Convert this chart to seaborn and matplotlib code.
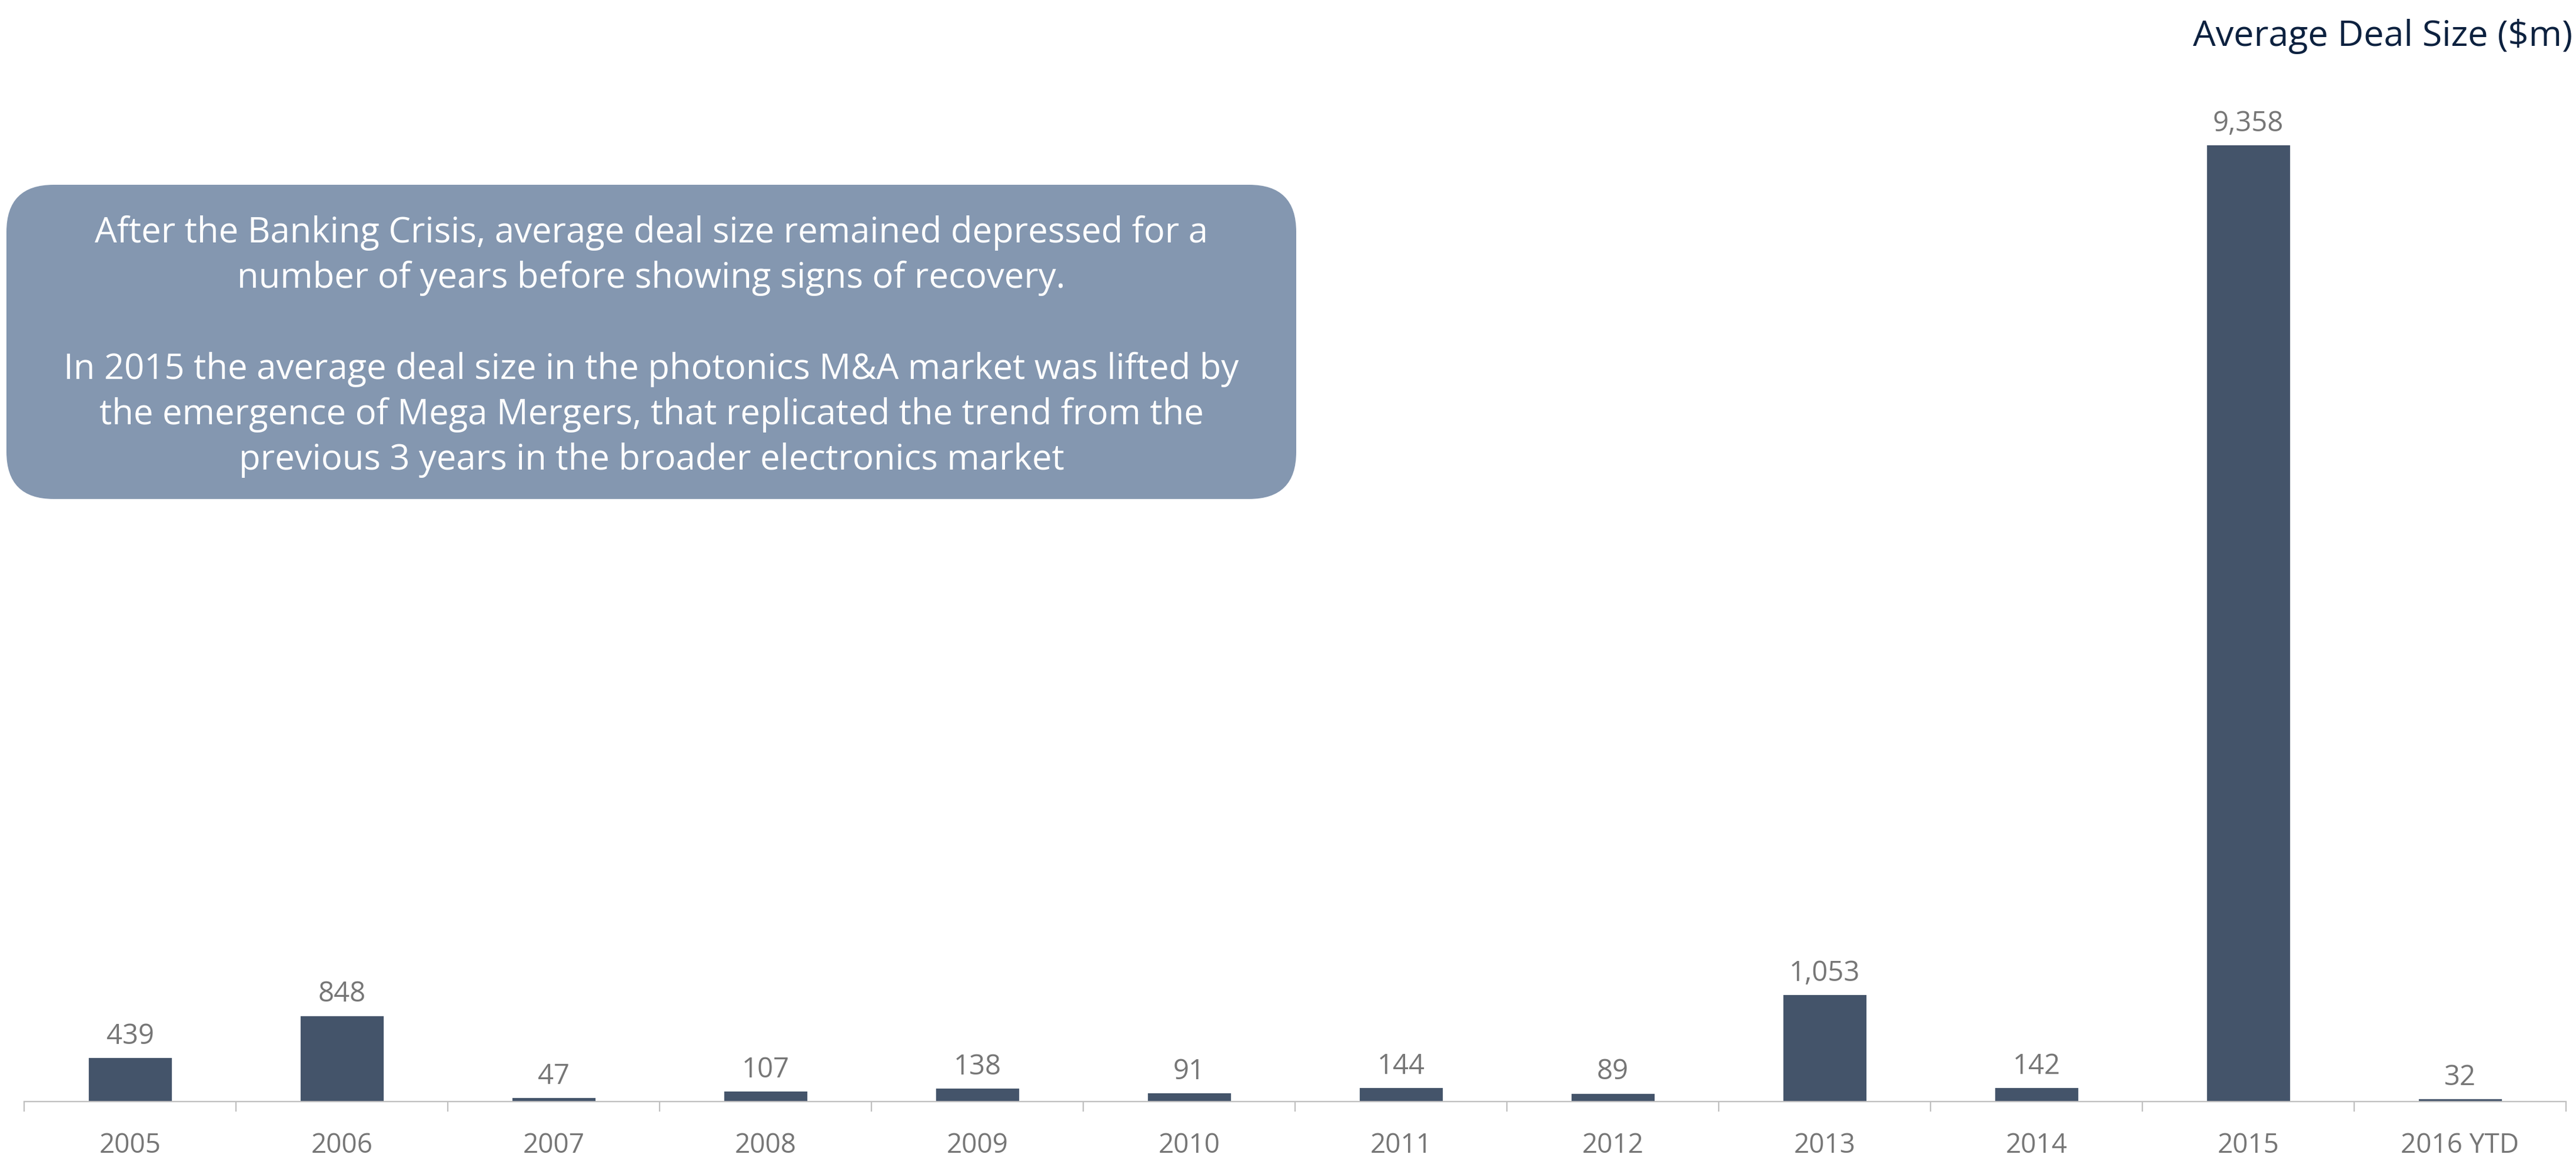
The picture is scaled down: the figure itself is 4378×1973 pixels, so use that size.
import matplotlib
matplotlib.use("Agg")
import matplotlib.pyplot as plt
from matplotlib.patches import FancyBboxPatch
import seaborn as sns
import pandas as pd

# Average deal size per year, $m
years = ["2005", "2006", "2007", "2008", "2009", "2010", "2011", "2012",
         "2013", "2014", "2015", "2016 YTD"]
deal_size = [439, 848, 47, 107, 138, 91, 144, 89, 1053, 142, 9358, 32]

title_text = "Average Deal Size ($m)"
note_text = ("After the Banking Crisis, average deal size remained depressed for a\n"
             "number of years before showing signs of recovery.\n"
             "\n"
             "In 2015 the average deal size in the photonics M&A market was lifted by\n"
             "the emergence of Mega Mergers, that replicated the trend from the\n"
             "previous 3 years in the broader electronics market")

BAR = "#44546A"
GREY_TXT = "#767676"
AXIS_GREY = "#BFBFBF"
BOX = "#8497B0"
TITLE = "#0C213F"

sns.set_theme(style="white")
plt.rcParams["font.family"] = ["Open Sans", "DejaVu Sans"]

W, H, DPI = 4378, 1974, 200
fig = plt.figure(figsize=(W / DPI, H / DPI), dpi=DPI)
fig.patch.set_facecolor("white")

# main bar axes, placed in pixel terms
x0, x1, y_axis = 41, 4361, 1873
ax = fig.add_axes([x0 / W, (H - y_axis) / H, (x1 - x0) / W, y_axis / H])
df = pd.DataFrame({"year": years, "size": deal_size})
sns.barplot(data=df, x="year", y="size", color=BAR, width=0.4,
            saturation=1, ax=ax, zorder=2)

ax.set_xlim(-0.5, len(years) - 0.5)
ax.set_ylim(0, 10770)
ax.set_xlabel("")
ax.set_ylabel("")
ax.set_yticks([])
for s in ["left", "right", "top"]:
    ax.spines[s].set_visible(False)
ax.spines["bottom"].set_color(AXIS_GREY)
ax.spines["bottom"].set_linewidth(0.8)
ax.set_facecolor("none")

# category separators as major ticks, labels on minor ticks
ax.set_xticks([i - 0.5 for i in range(len(years) + 1)])
ax.set_xticklabels([])
ax.tick_params(axis="x", which="major", length=6.2, width=0.8,
               color=AXIS_GREY, direction="out", bottom=True)
ax.set_xticks(range(len(years)), minor=True)
ax.set_xticklabels(years, minor=True)
ax.tick_params(axis="x", which="minor", length=0, pad=18.5,
               labelsize=16.5, labelcolor=GREY_TXT, bottom=True)

for i, v in enumerate(deal_size):
    ax.annotate(f"{v:,}", xy=(i, v), xytext=(0, 8.3), textcoords="offset points",
                ha="center", va="baseline", fontsize=17, color=GREY_TXT,
                clip_on=False)

# overlay in pixel coordinates for the title and the note box
ov = fig.add_axes([0, 0, 1, 1], zorder=-1)
ov.set_xlim(0, W)
ov.set_ylim(H, 0)
ov.axis("off")

ov.text(4372, 62, title_text, ha="right", va="center", fontsize=22,
        color=TITLE)

box = FancyBboxPatch((11, 315), 2192, 534,
                     boxstyle="round,pad=0,rounding_size=80",
                     facecolor=BOX, edgecolor="none")
ov.add_patch(box)
ov.text(1107, 589, note_text, ha="center", va="center", fontsize=21.5,
        color="white", linespacing=1.37, multialignment="center")

fig.savefig("out.png", dpi=DPI, facecolor="white")
